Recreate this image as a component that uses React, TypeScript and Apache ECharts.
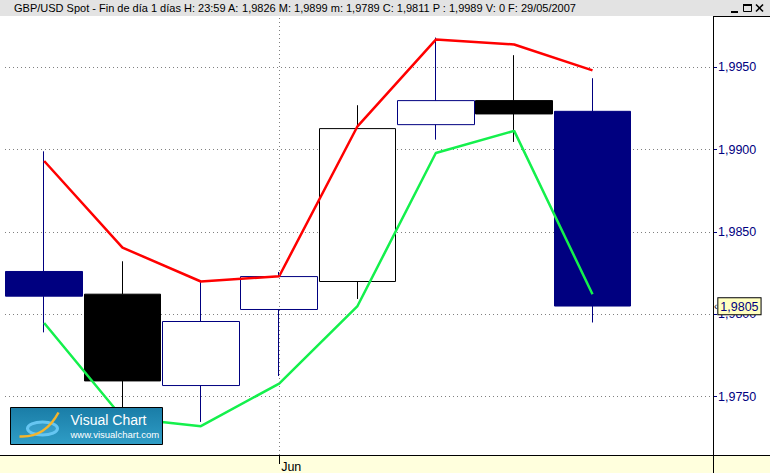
import { useEffect, useRef } from 'react';
import * as echarts from 'echarts';

// ---- data ----
const categories = ['29/05', '30/05', '31/05', '01/06', '04/06', '05/06', '06/06', '07/06', '08/06'];
// [open, close, low, high]
const candleOHLC: number[][] = [
  [1.9826, 1.9811, 1.9789, 1.9899],
  [1.98122, 1.97595, 1.9742, 1.98322],
  [1.97567, 1.97956, 1.97346, 1.98196],
  [1.98029, 1.98229, 1.97625, 1.98257],
  [1.98199, 1.99128, 1.98093, 1.9927],
  [1.99152, 1.99298, 1.99061, 1.99681],
  [1.99298, 1.99217, 1.99047, 1.99574],
  [1.99233, 1.9805, 1.9795, 1.99434],
];
const upperLine = [1.98931, 1.98405, 1.98199, 1.98231, 1.99142, 1.99669, 1.99639, 1.99482];
const lowerLine = [1.97947, 1.97371, 1.9732, 1.97579, 1.9805, 1.9898, 1.99114, 1.98122];
const monthIndex = 3;
const monthLabel = 'Jun';
const lastClose = 1.9805;
const yMin = 1.97145;
const yMax = 1.99806;
const yStep = 0.005;

// header texts
const headerName = 'GBP/USD Spot - Fin de día 1 días';
const headerH = '23:59';
const headerA = '1,9826';
const headerM = '1,9899';
const headerm = '1,9789';
const headerC = '1,9811';
const headerP = '1,9989';
const headerV = '0';
const headerF = '29/05/2007';

// ---- styles ----
const NAVY = '#000080';
const BLACK = '#000000';
const candleInk = [NAVY, BLACK, NAVY, NAVY, BLACK, NAVY, BLACK, NAVY];
const FONT = '"Liberation Sans", Arial, sans-serif';
const HFS = 11;

const fmt = (v: number) => v.toFixed(4).replace('.', ',');

export default function App() {
  const ref = useRef<HTMLDivElement>(null);
  useEffect(() => {
    if (!ref.current) return;
    const chart = echarts.init(ref.current, undefined, { renderer: 'svg' });
    const kText = { color: '#000', fontSize: HFS, fontFamily: FONT };
    const vText = { color: NAVY, fontSize: HFS, fontFamily: FONT };
    const pText = { color: '#FF0000', fontSize: HFS, fontFamily: FONT };
    const headerRich =
      `{k|${headerName} H: }{v|${headerH}}{k| A: }{v|${headerA}}{k| M: }{v|${headerM}}` +
      `{k| m: }{v|${headerm}}{k| C: }{v|${headerC}}{p| P : ${headerP}}{k| V: }{v|${headerV}}` +
      `{k| F: }{v|${headerF}}`;

    const option: any = {
      animation: false,
      backgroundColor: '#ffffff',
      grid: { left: 5, right: 60, top: 17, bottom: 18 },
      xAxis: {
        type: 'category',
        data: categories,
        boundaryGap: true,
        axisLine: { show: false },
        axisTick: {
          show: true,
          alignWithLabel: true,
          interval: (i: number) => i === monthIndex,
          length: 9,
          lineStyle: { color: '#000' },
        },
        axisLabel: {
          interval: (i: number) => i === monthIndex,
          formatter: () => monthLabel,
          align: 'left',
          margin: 5,
          padding: [0, 0, 0, 2],
          color: '#000',
          fontSize: 12.5,
          fontFamily: FONT,
        },
        splitLine: { show: false },
      },
      yAxis: {
        type: 'value',
        position: 'right',
        offset: 3,
        min: yMin,
        max: yMax,
        minInterval: yStep,
        maxInterval: yStep,
        axisLine: { show: true, lineStyle: { color: '#000' } },
        axisTick: { show: true, length: 4, lineStyle: { color: NAVY } },
        axisLabel: {
          showMinLabel: false,
          showMaxLabel: false,
          formatter: (v: number) => fmt(v),
          color: NAVY,
          fontSize: 12.5,
          fontFamily: FONT,
          margin: 5,
        },
        splitLine: {
          show: true,
          showMinLine: false,
          showMaxLine: false,
          lineStyle: { type: [1, 3], color: '#808080', width: 1 },
        },
      },
      series: [
        {
          type: 'candlestick',
          barWidth: 77,
          z: 2,
          itemStyle: { color: '#ffffff', borderWidth: 1 },
          data: candleOHLC.map((v, i) => {
            const fill = v[1] < v[0] ? candleInk[i] : '#ffffff';
            return {
              value: v,
              itemStyle: {
                color: fill,
                color0: fill,
                borderColor: candleInk[i],
                borderColor0: candleInk[i],
              },
            };
          }),
          markLine: {
            silent: true,
            symbol: ['none', 'none'],
            animation: false,
            data: [
              {
                xAxis: categories[monthIndex],
                lineStyle: { type: [1, 3], color: '#808080', width: 1 },
                label: { show: false },
              },
              {
                yAxis: lastClose,
                lineStyle: { color: 'rgba(0,0,0,0)', width: 1 },
                label: {
                  show: true,
                  position: 'end',
                  distance: 4,
                  offset: [0, -8],
                  formatter: `{a|‹}{b|${fmt(lastClose)}}`,
                  rich: {
                    a: { color: '#000', fontSize: 10, fontFamily: FONT, padding: [0, 1, 0, 0] },
                    b: {
                      color: NAVY,
                      fontSize: 12.5,
                      fontFamily: FONT,
                      backgroundColor: '#FFFFC0',
                      borderColor: '#000',
                      borderWidth: 1,
                      padding: [2, 2, 1, 2],
                    },
                  },
                },
              },
            ],
          },
        },
        {
          type: 'line',
          data: upperLine,
          symbol: 'none',
          z: 3,
          lineStyle: { color: '#FF0000', width: 2.5 },
        },
        {
          type: 'line',
          data: lowerLine,
          symbol: 'none',
          z: 3,
          lineStyle: { color: '#14F04C', width: 2.5 },
        },
      ],
      graphic: [
        { type: 'rect', z: -1, shape: { x: 0, y: 456, width: 770, height: 17 }, style: { fill: '#FFFFDD' } },
        { type: 'line', z: 50, shape: { x1: 0, y1: 455.5, x2: 770, y2: 455.5 }, style: { stroke: '#000', lineWidth: 1 } },
        { type: 'line', z: 50, shape: { x1: 713.5, y1: 16, x2: 713.5, y2: 473 }, style: { stroke: '#000', lineWidth: 1 } },
        { type: 'line', z: 50, shape: { x1: 713, y1: 16.5, x2: 770, y2: 16.5 }, style: { stroke: '#000', lineWidth: 1 } },
        { type: 'rect', z: 50, shape: { x: 0, y: 0, width: 770, height: 16 }, style: { fill: '#E3E3E3' } },
        {
          type: 'text',
          z: 51,
          x: 14,
          y: 8,
          style: {
            text: headerRich,
            rich: { k: kText, v: vText, p: pText },
            fontSize: HFS,
            fontFamily: FONT,
            verticalAlign: 'middle',
            textVerticalAlign: 'middle',
          },
        },
        // window buttons
        { type: 'rect', z: 51, shape: { x: 731, y: 11, width: 7, height: 2 }, style: { fill: '#000' } },
        { type: 'rect', z: 51, shape: { x: 743.5, y: 4.5, width: 8, height: 7 }, style: { fill: 'none', stroke: '#000', lineWidth: 1 } },
        { type: 'rect', z: 51, shape: { x: 743, y: 4, width: 9, height: 2 }, style: { fill: '#000' } },
        { type: 'line', z: 51, shape: { x1: 756, y1: 4.5, x2: 763, y2: 11.5 }, style: { stroke: '#000', lineWidth: 1.6 } },
        { type: 'line', z: 51, shape: { x1: 763, y1: 4.5, x2: 756, y2: 11.5 }, style: { stroke: '#000', lineWidth: 1.6 } },
        // logo
        {
          type: 'group',
          x: 10.5,
          y: 407.5,
          z: 60,
          children: [
            {
              type: 'rect',
              z: 60,
              shape: { x: 0, y: 0, width: 152, height: 37 },
              style: {
                fill: new echarts.graphic.LinearGradient(0, 0, 0, 1, [
                  { offset: 0, color: '#1A7DA7' },
                  { offset: 1, color: '#2F9DC6' },
                ]),
                stroke: '#000',
                lineWidth: 1,
              },
            },
            {
              type: 'ellipse',
              z: 61,
              shape: { cx: 32, cy: 21, rx: 15, ry: 6.5 },
              style: { fill: 'rgba(102,198,242,0.25)', stroke: '#66C6F2', lineWidth: 3 },
            },
            {
              type: 'bezierCurve',
              z: 62,
              shape: { x1: 9, y1: 29, cpx1: 27, cpy1: 30, cpx2: 40, cpy2: 20, x2: 48, y2: 5 },
              style: { fill: 'none', stroke: '#F4B52C', lineWidth: 2.5 },
            },
            {
              type: 'text',
              z: 62,
              x: 60,
              y: 12,
              style: {
                text: 'Visual Chart',
                fill: '#ffffff',
                fontSize: 14,
                fontFamily: FONT,
                verticalAlign: 'middle',
                textVerticalAlign: 'middle',
              },
            },
            {
              type: 'text',
              z: 62,
              x: 60,
              y: 27,
              style: {
                text: 'www.visualchart.com',
                fill: '#ffffff',
                fontSize: 9.5,
                fontFamily: FONT,
                verticalAlign: 'middle',
                textVerticalAlign: 'middle',
              },
            },
          ],
        },
      ],
    };
    chart.setOption(option);
    return () => chart.dispose();
  }, []);
  return <div ref={ref} style={{ position: 'fixed', left: 0, top: 0, width: 770, height: 473 }} />;
}
